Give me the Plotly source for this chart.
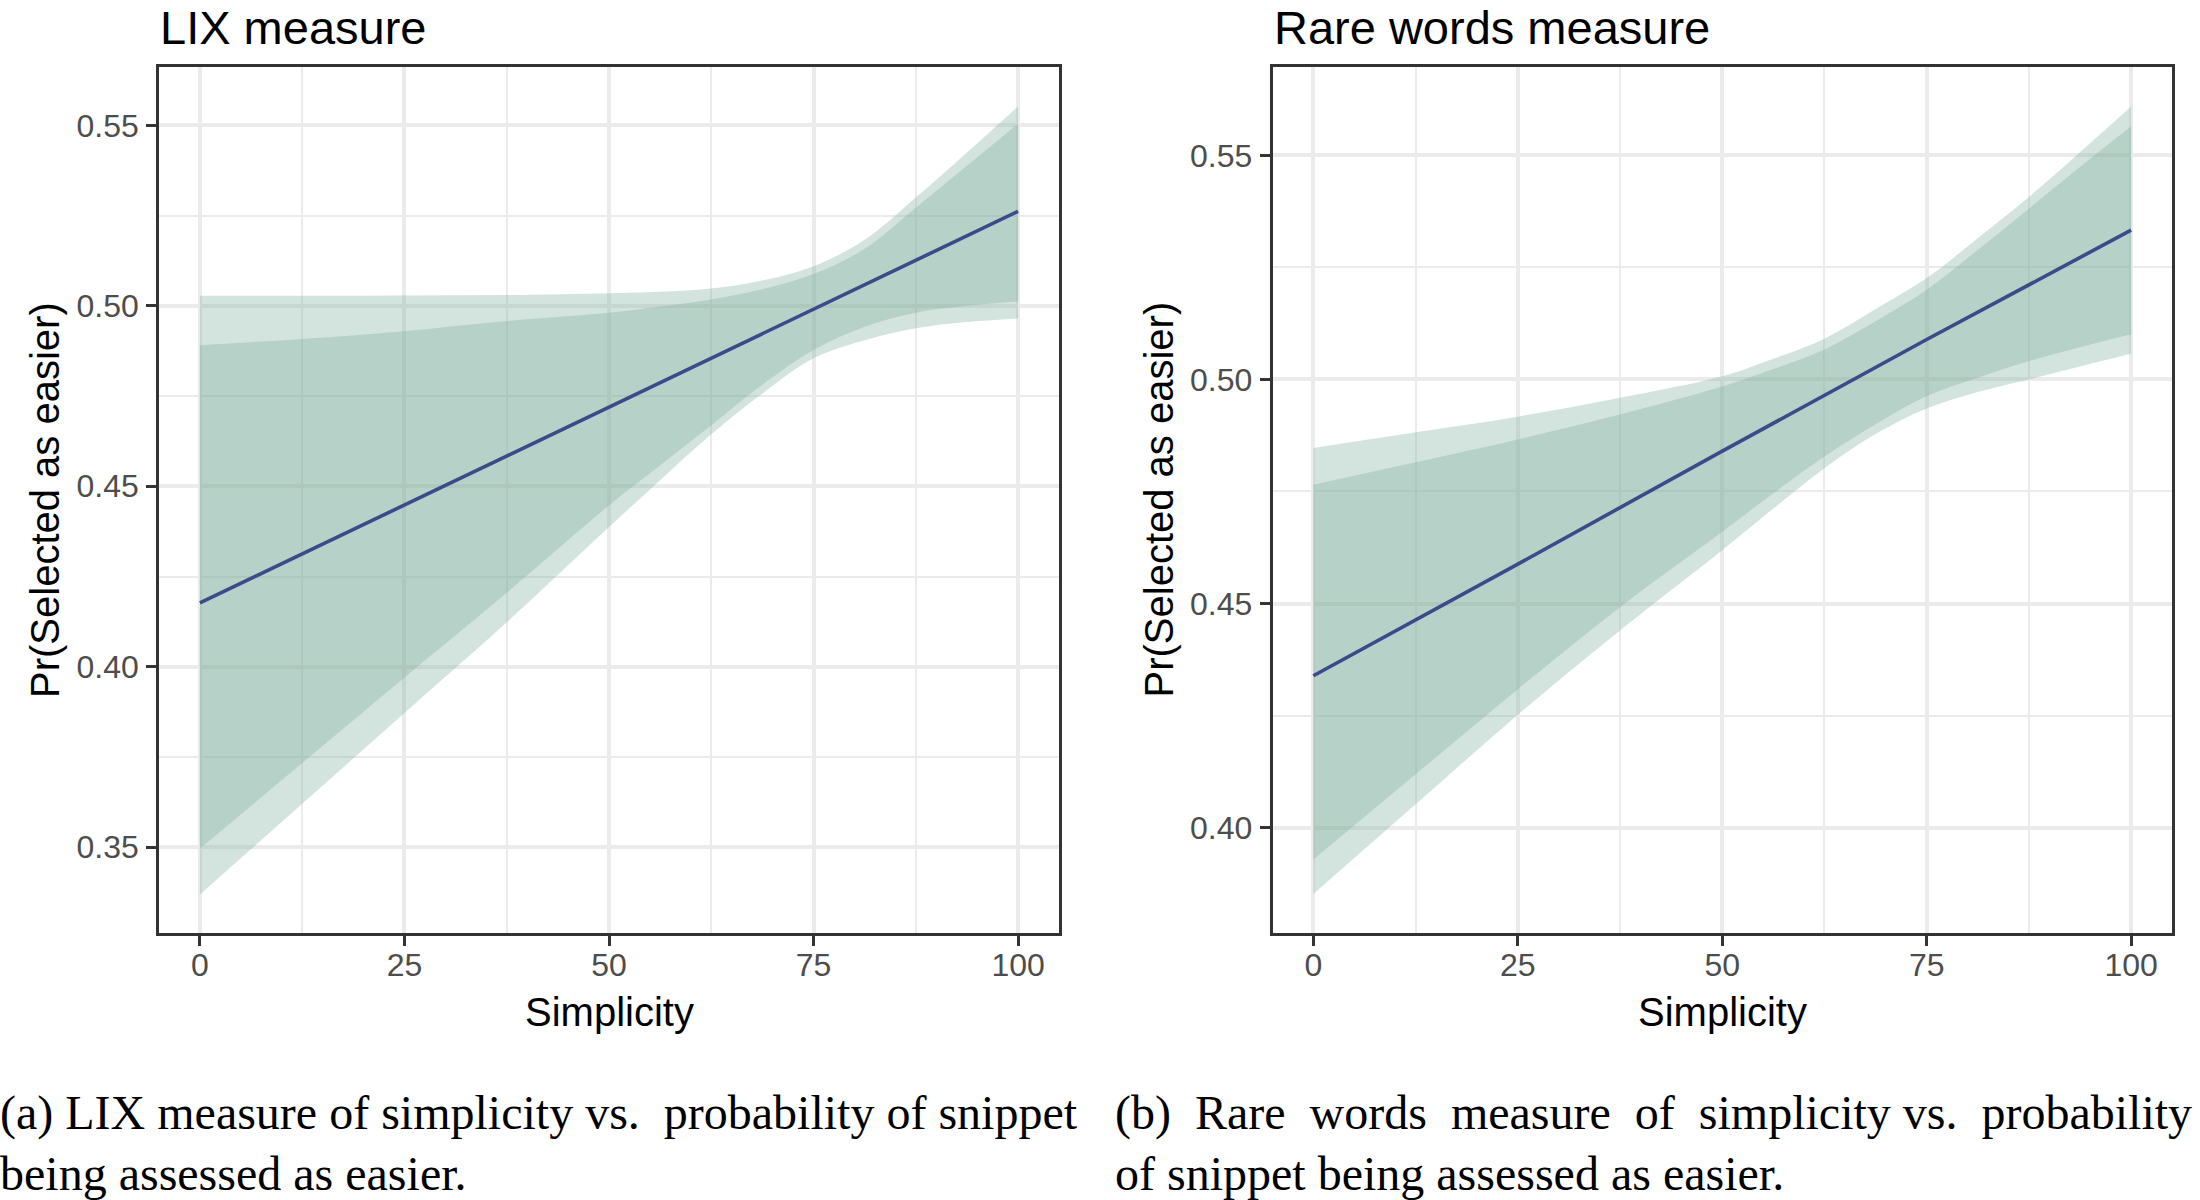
import plotly.graph_objects as go

# ---------------- data ----------------
SIMPLICITY = [0, 12.5, 25, 37.5, 50, 56.25, 62.5, 68.75, 75, 81.25, 87.5, 93.75, 100]
LINE_X = [0, 25, 50, 75, 100]

# LIX measure
LIX_LINE = [0.4177, 0.4448, 0.4720, 0.4989, 0.5262]
LIX_OUTER_UPPER = [0.5028, 0.5028, 0.5029, 0.5030, 0.5035, 0.5039, 0.5048, 0.5070, 0.5110, 0.5183, 0.5300, 0.5425, 0.5553]
LIX_OUTER_LOWER = [0.3369, 0.3620, 0.3872, 0.4123, 0.4387, 0.4517, 0.4644, 0.4757, 0.4855, 0.4905, 0.4938, 0.4955, 0.4965]
LIX_INNER_UPPER = [0.4891, 0.4908, 0.4930, 0.4958, 0.4981, 0.4998, 0.5018, 0.5046, 0.5088, 0.5158, 0.5272, 0.5388, 0.5505]
LIX_INNER_LOWER = [0.3496, 0.3733, 0.3970, 0.4205, 0.4447, 0.4558, 0.4669, 0.4782, 0.4878, 0.4942, 0.4981, 0.5000, 0.5012]

# Rare words measure
RARE_LINE = [0.4339, 0.4588, 0.4840, 0.5089, 0.5333]
RARE_OUTER_UPPER = [0.4847, 0.4882, 0.4917, 0.4959, 0.5007, 0.5046, 0.5091, 0.5157, 0.5226, 0.5315, 0.5407, 0.5507, 0.5609]
RARE_OUTER_LOWER = [0.3852, 0.4052, 0.4252, 0.4440, 0.4619, 0.4712, 0.4802, 0.4878, 0.4935, 0.4972, 0.5000, 0.5029, 0.5057]
RARE_INNER_UPPER = [0.4765, 0.4815, 0.4866, 0.4922, 0.4984, 0.5023, 0.5067, 0.5130, 0.5200, 0.5289, 0.5381, 0.5474, 0.5564]
RARE_INNER_LOWER = [0.3929, 0.4119, 0.4309, 0.4492, 0.4660, 0.4746, 0.4828, 0.4900, 0.4963, 0.5004, 0.5041, 0.5072, 0.5101]

X_TICKS = [0, 25, 50, 75, 100]
X_MINOR = [12.5, 37.5, 62.5, 87.5]
LIX_Y_TICKS = [0.35, 0.40, 0.45, 0.50, 0.55]
LIX_Y_MINOR = [0.375, 0.425, 0.475, 0.525]
RARE_Y_TICKS = [0.40, 0.45, 0.50, 0.55]
RARE_Y_MINOR = [0.425, 0.475, 0.525]

TITLES = ["LIX measure", "Rare words measure"]
X_TITLE = "Simplicity"
Y_TITLE = "Pr(Selected as easier)"
CAPTION_A = ["(a) LIX measure of simplicity vs.\u00a0 probability of snippet",
             "being assessed as easier."]
CAPTION_B = ["(b)\u00a0 Rare\u00a0 words\u00a0 measure\u00a0 of\u00a0 simplicity vs.\u00a0 probability",
             "of snippet being assessed as easier."]

# ---------------- styling ----------------
W, H = 2200, 1200
FILL = "rgba(129,175,158,0.35)"
LINE_COLOR = "#3d4a8a"
GRID = "#ebebeb"
BORDER = "#333333"
SANS = "Liberation Sans, Arial, Helvetica, sans-serif"
SERIF = "Liberation Serif, Times New Roman, serif"

PANELS = [
    dict(left=159, right=1059),
    dict(left=1272.5, right=2172),
]
TOP, BOTTOM = 67, 933


def px_x(p):
    return p / W


def px_y(p):
    return 1 - p / H


fig = go.Figure()


def add_ribbon(lower, upper, xa, ya):
    fig.add_trace(go.Scatter(x=SIMPLICITY, y=lower, mode="lines",
                             line=dict(width=0, shape="spline", smoothing=1.0),
                             xaxis=xa, yaxis=ya, hoverinfo="skip", showlegend=False))
    fig.add_trace(go.Scatter(x=SIMPLICITY, y=upper, mode="lines", fill="tonexty",
                             fillcolor=FILL,
                             line=dict(width=0, shape="spline", smoothing=1.0),
                             xaxis=xa, yaxis=ya, hoverinfo="skip", showlegend=False))


add_ribbon(LIX_OUTER_LOWER, LIX_OUTER_UPPER, "x", "y")
add_ribbon(LIX_INNER_LOWER, LIX_INNER_UPPER, "x", "y")
fig.add_trace(go.Scatter(x=LINE_X, y=LIX_LINE, mode="lines",
                         line=dict(color=LINE_COLOR, width=3.6),
                         xaxis="x", yaxis="y", showlegend=False))

add_ribbon(RARE_OUTER_LOWER, RARE_OUTER_UPPER, "x2", "y2")
add_ribbon(RARE_INNER_LOWER, RARE_INNER_UPPER, "x2", "y2")
fig.add_trace(go.Scatter(x=LINE_X, y=RARE_LINE, mode="lines",
                         line=dict(color=LINE_COLOR, width=3.6),
                         xaxis="x2", yaxis="y2", showlegend=False))


def xaxis_cfg(panel, anchor):
    return dict(
        domain=[px_x(panel["left"]), px_x(panel["right"])],
        anchor=anchor, range=[-5, 105],
        tickmode="array", tickvals=X_TICKS, ticktext=[str(v) for v in X_TICKS],
        ticks="outside", ticklen=10, tickwidth=2.5, tickcolor=BORDER,
        tickfont=dict(family=SANS, size=32, color="#4d4d4d"),
        ticklabelstandoff=-8,
        showgrid=True, gridcolor=GRID, gridwidth=3.5,
        minor=dict(tickvals=X_MINOR, showgrid=True, gridcolor=GRID, gridwidth=2, ticks=""),
        showline=True, linecolor=BORDER, linewidth=2.5, mirror=True,
        zeroline=False, fixedrange=True,
    )


def yaxis_cfg(rng, ticks, minor, anchor):
    return dict(
        domain=[px_y(BOTTOM), px_y(TOP)],
        anchor=anchor, range=rng,
        tickmode="array", tickvals=ticks, ticktext=[f"{v:.2f}" for v in ticks],
        ticks="outside", ticklen=10, tickwidth=2.5, tickcolor=BORDER,
        tickfont=dict(family=SANS, size=32, color="#4d4d4d"),
        ticklabelstandoff=1,
        showgrid=True, gridcolor=GRID, gridwidth=3.5,
        minor=dict(tickvals=minor, showgrid=True, gridcolor=GRID, gridwidth=2, ticks=""),
        showline=True, linecolor=BORDER, linewidth=2.5, mirror=True,
        zeroline=False, fixedrange=True,
    )


annotations = []
for i, panel in enumerate(PANELS):
    cx = (panel["left"] + panel["right"]) / 2
    annotations.append(dict(text=TITLES[i], x=px_x(panel["left"]), y=1.0,
                            xref="paper", yref="paper", xanchor="left", yanchor="top",
                            borderpad=0,
                            showarrow=False, font=dict(family=SANS, size=47, color="black")))
    annotations.append(dict(text=X_TITLE, x=px_x(cx), y=px_y(1012),
                            xref="paper", yref="paper", xanchor="center", yanchor="middle",
                            showarrow=False, font=dict(family=SANS, size=40, color="black")))
    annotations.append(dict(text=Y_TITLE, x=px_x(panel["left"] - 114), y=px_y((TOP + BOTTOM) / 2),
                            xref="paper", yref="paper", xanchor="center", yanchor="middle",
                            textangle=-90, showarrow=False,
                            font=dict(family=SANS, size=40, color="black")))

for j, (xpos, lines) in enumerate([(0, CAPTION_A), (1115, CAPTION_B)]):
    for k, txt in enumerate(lines):
        annotations.append(dict(text=txt, x=px_x(xpos), y=px_y(1113 + 60 * k),
                                xref="paper", yref="paper", xanchor="left", yanchor="middle",
                                showarrow=False, xshift=-2,
                                font=dict(family=SERIF, size=48, color="black")))

fig.update_layout(
    width=W, height=H,
    margin=dict(l=0, r=0, t=0, b=0),
    paper_bgcolor="white", plot_bgcolor="white",
    showlegend=False,
    xaxis=xaxis_cfg(PANELS[0], "y"),
    yaxis=yaxis_cfg([0.3262, 0.5662], LIX_Y_TICKS, LIX_Y_MINOR, "x"),
    xaxis2=xaxis_cfg(PANELS[1], "y2"),
    yaxis2=yaxis_cfg([0.3765, 0.5697], RARE_Y_TICKS, RARE_Y_MINOR, "x2"),
    annotations=annotations,
)

fig.write_html("out.html",
               config={"displayModeBar": False},
               post_script="document.body.style.margin='0';document.body.style.overflow='hidden';")
